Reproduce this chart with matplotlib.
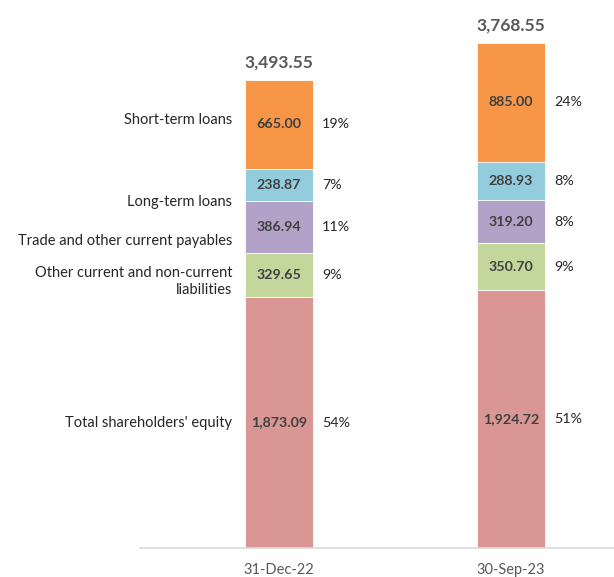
import matplotlib
matplotlib.use("Agg")
import matplotlib.pyplot as plt

# data
dates = ["31-Dec-22", "30-Sep-23"]
series = ["Total shareholders' equity",
          "Other current and non-current\nliabilities",
          "Trade and other current payables",
          "Long-term loans",
          "Short-term loans"]
equity = [1873.09, 1924.72]
other_liab = [329.65, 350.70]
payables = [386.94, 319.20]
lt_loans = [238.87, 288.93]
st_loans = [665.00, 885.00]
totals = [3493.55, 3768.55]
pct_equity = ["54%", "51%"]
pct_other = ["9%", "9%"]
pct_payables = ["11%", "8%"]
pct_lt = ["7%", "8%"]
pct_st = ["19%", "24%"]

values = [equity, other_liab, payables, lt_loans, st_loans]
pcts = [pct_equity, pct_other, pct_payables, pct_lt, pct_st]
colors = ["#D99694", "#C3D69B", "#B3A2C7", "#93CDDD", "#F79646"]
# vertical nudge (points) of the series names, like the Excel label placement
name_offsets = [0, -5, -10, -12, 3]

plt.rcParams['font.family'] = ['Lato', 'DejaVu Sans']
txt = "#404040"

fig = plt.figure(figsize=(6.14, 5.77), dpi=100)
ax = fig.add_axes([140/614, 29/577, 474/614, 536/577])

x = [0, 1]
width = 0.293
bottom = [0.0, 0.0]
for i, (vals, col) in enumerate(zip(values, colors)):
    ax.bar(x, vals, width, bottom=bottom, color=col, edgecolor="white", linewidth=0.6)
    for j in range(2):
        mid = bottom[j] + vals[j] / 2
        ax.text(x[j], mid, f"{vals[j]:,.2f}", ha="center", va="center",
                fontsize=10.3, fontweight="bold", color=txt)
        ax.annotate(pcts[i][j], (x[j] + width / 2, mid), xytext=(6.5, 0),
                    textcoords="offset points", ha="left", va="center",
                    fontsize=10.3, color="#262626")
    # series name to the left of the first bar
    ax.annotate(series[i], (x[0] - width / 2, bottom[0] + vals[0] / 2),
                xytext=(-9, name_offsets[i]), textcoords="offset points",
                ha="right", va="center", fontsize=10.5, color="#262626",
                multialignment="right", linespacing=1.25)
    bottom = [b + v for b, v in zip(bottom, vals)]

for j in range(2):
    ax.annotate(f"{totals[j]:,.2f}", (x[j], totals[j]), xytext=(0, 7),
                textcoords="offset points", ha="center", va="bottom",
                fontsize=12.5, fontweight="bold", color="#595959")

ax.set_xlim(-0.599, 1.444)
ax.set_ylim(0, 4000)
ax.set_xticks(x)
ax.set_xticklabels(dates, fontsize=10.5, color="#595959")
ax.tick_params(axis="x", length=0, pad=11)
ax.set_yticks([])
for s in ["top", "left", "right"]:
    ax.spines[s].set_visible(False)
ax.spines["bottom"].set_color("#D9D9D9")
ax.spines["bottom"].set_linewidth(1.2)

fig.savefig("out.png", dpi=100)
